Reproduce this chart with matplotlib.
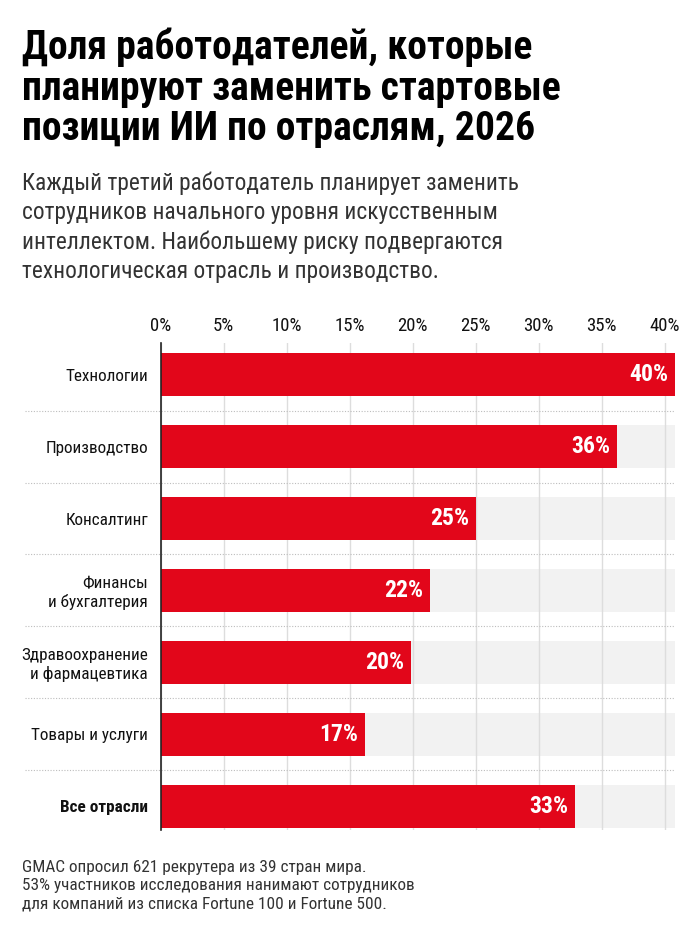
import matplotlib
matplotlib.use("Agg")
import matplotlib.pyplot as plt
from matplotlib import font_manager

# pick a condensed family if one is installed
installed = {f.name for f in font_manager.fontManager.ttflist}
FONT = "Roboto"
for cand in ["Roboto Condensed", "Liberation Sans Narrow", "Open Sans Condensed", "Noto Sans Display"]:
    if cand in installed:
        FONT = cand
        break
plt.rcParams["font.family"] = [FONT, "DejaVu Sans"]

categories = ["Технологии", "Производство", "Консалтинг", "Финансы\nи бухгалтерия",
              "Здравоохранение\nи фармацевтика", "Товары и услуги", "Все отрасли"]
bar_values = [40.8, 36.2, 25.0, 21.4, 19.9, 16.2, 32.9]   # bar lengths as drawn
value_labels = ["40%", "36%", "25%", "22%", "20%", "17%", "33%"]
ticks = [0, 5, 10, 15, 20, 25, 30, 35, 40]
tick_labels = [f"{t}%" for t in ticks]

RED = "#e2061a"
BAND = "#f2f2f2"
XMAX = 40.8

fig = plt.figure(figsize=(7, 9.33), dpi=100)
fig.patch.set_facecolor("white")
ax = fig.add_axes([0.2293, 0.1104, 0.735, 0.522])

y = list(range(len(categories)))
ax.barh(y, [XMAX] * len(y), height=0.6, color=BAND, zorder=0)
ax.barh(y, bar_values, height=0.6, color=RED, zorder=2)

for yi, v, lab in zip(y, bar_values, value_labels):
    ax.text(v - 0.55, yi, lab, ha="right", va="center", color="white",
            fontsize=17, fontweight="bold", zorder=3)

# dotted separators between rows, reaching into the label area
for yi in y[:-1]:
    ax.plot([-0.263, 1.0], [yi + 0.5, yi + 0.5], transform=ax.get_yaxis_transform(),
            color="#bdbdbd", lw=0.8, ls=(0, (1, 1.5)), clip_on=False, zorder=1)

ax.set_xlim(0, XMAX)
ax.set_ylim(6.33, -0.44)
ax.set_axisbelow(True)
ax.set_xticks(ticks)
ax.set_xticklabels(tick_labels, fontsize=13.5, color="#111111")
ax.xaxis.tick_top()
ax.tick_params(axis="x", length=0, pad=6)
ax.grid(axis="x", color="#dddddd", lw=1)

ax.set_yticks(y)
ax.set_yticklabels(categories, fontsize=12.3, color="#111111")
ax.get_yticklabels()[-1].set_fontweight("bold")
ax.tick_params(axis="y", length=0, pad=9)
for lbl in ax.get_yticklabels():
    lbl.set_multialignment("right")

for s in ["top", "right", "bottom"]:
    ax.spines[s].set_visible(False)
ax.spines["left"].set_color("#222222")
ax.spines["left"].set_linewidth(1.2)
ax.spines["left"].set_zorder(4)

fig.text(0.031, 0.970, "Доля работодателей, которые\nпланируют заменить стартовые\nпозиции ИИ по отраслям, 2026",
         ha="left", va="top", fontsize=28.5, fontweight="bold", color="#000000", linespacing=1.07)
fig.text(0.031, 0.816, "Каждый третий работодатель планирует заменить\nсотрудников начального уровня искусственным\n"
         "интеллектом. Наибольшему риску подвергаются\nтехнологическая отрасль и производство.",
         ha="left", va="top", fontsize=16.8, color="#333333", linespacing=1.33)
fig.text(0.031, 0.078, "GMAC опросил 621 рекрутера из 39 стран мира.\n53% участников исследования нанимают сотрудников\n"
         "для компаний из списка Fortune 100 и Fortune 500.",
         ha="left", va="top", fontsize=12.4, color="#333333", linespacing=1.25)

fig.savefig("out.png", dpi=100, facecolor="white")
